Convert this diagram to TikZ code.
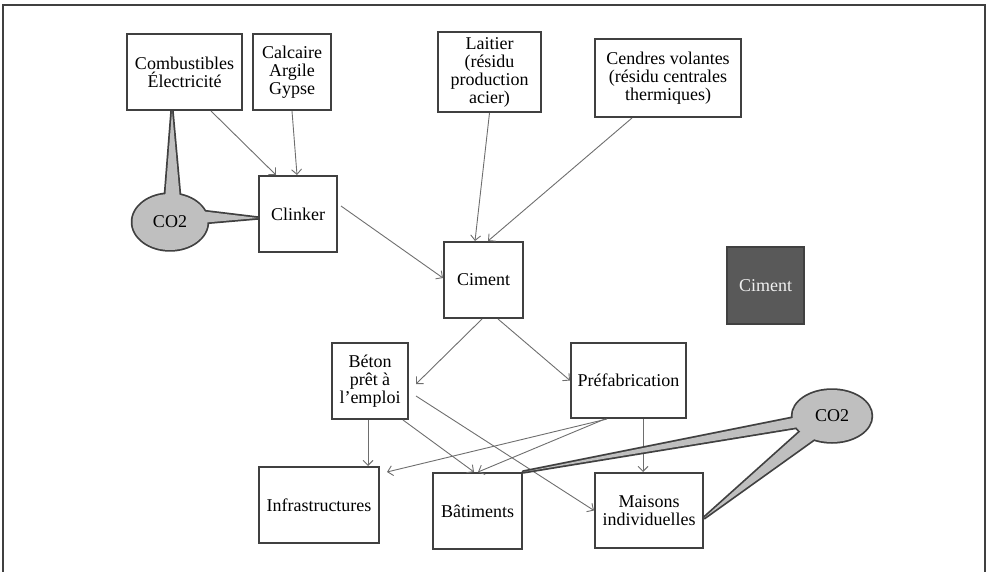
\documentclass[tikz,border=0pt]{standalone}
\usepackage{fontspec}
\setmainfont{Liberation Serif}
\usetikzlibrary{arrows.meta}

\definecolor{framegray}{RGB}{64,64,64}
\definecolor{linegray}{RGB}{110,110,110}
\definecolor{co2gray}{RGB}{191,191,191}
\definecolor{darkfill}{RGB}{89,89,89}

\tikzset{
  box/.style={draw=framegray, line width=2pt, fill=white, align=center, inner sep=0pt,
    font=\fontsize{18}{18}\selectfont},
  sz/.style 2 args={minimum width=#1pt, minimum height=#2pt},
  darkbox/.style={box, fill=darkfill, text=white!94!black},
  flow/.style={draw=linegray, line width=0.9pt, -{Straight Barb[length=5pt,width=10pt]}},
  calloutline/.style={draw=framegray, line width=3.5pt, line join=round},
  co2text/.style={font=\fontsize{18}{18}\selectfont, inner sep=0pt}
}

\begin{document}
\begin{tikzpicture}[x=1pt, y=-1pt]
    \useasboundingbox (0,0) rectangle (986,572);
    \draw[framegray, line width=2pt] (3,5) rectangle (985,600);

    % inputs
    \node[box, sz={115}{76}] (comb)    at (184.5,72) {Combustibles\\\'Electricit\'e};
    \node[box, sz={78}{76}]  (calc)    at (292,72)   {Calcaire\\Argile\\Gypse};
    \node[box, sz={103}{80}] (laitier) at (489.5,72) {Laitier\\(r\'esidu\\production\\acier)};
    \node[box, sz={146}{78}] (cendres) at (668,78)   {Cendres volantes\\(r\'esidu centrales\\thermiques)};
    \node[box, sz={78}{76}]  (clinker) at (298,214)  {Clinker};
    \node[box, sz={79}{76}]  (ciment)  at (483.5,280) {Ciment};
    \node[darkbox, sz={77}{77}] (legend) at (765.5,285.5) {Ciment};

    % uses
    \node[box, sz={76}{76}]  (beton)   at (370,381)   {B\'eton\\pr\^et \`a\\l'emploi};
    \node[box, sz={115}{75}] (prefab)  at (628.5,380.5) {Pr\'efabrication};
    \node[box, sz={120}{76}] (infra)   at (319,505)   {Infrastructures};
    \node[box, sz={89}{76}]  (batim)   at (477.5,511) {B\^atiments};
    \node[box, sz={108}{75}] (maisons) at (649,510.5) {Maisons\\individuelles};

    \draw[flow] ([xshift=26.5pt]comb.south) -- ([xshift=-22pt]clinker.north);
    \draw[flow] (calc.south) -- ([xshift=-1pt]clinker.north);
    \draw[flow] ([xshift=3pt,yshift=8pt]clinker.east) -- ([yshift=2pt]ciment.west);
    \draw[flow] (laitier.south) -- ([xshift=-8.5pt]ciment.north);
    \draw[flow] ([xshift=-36pt]cendres.south) -- ([xshift=4.5pt]ciment.north);
    \draw[flow] ([xshift=-1.5pt]ciment.south) -- ([xshift=7pt,yshift=-3pt]beton.east);
    \draw[flow] ([xshift=14.5pt]ciment.south) -- (prefab.west);
    \draw[flow] ([xshift=-2pt]beton.south) -- ([xshift=49pt]infra.north);
    \draw[flow] ([xshift=33pt]beton.south) -- ([xshift=-3.5pt]batim.north);
    \draw[flow] ([xshift=7pt,yshift=-15pt]beton.east) -- (maisons.west);
    \draw[flow] ([xshift=-21.5pt]prefab.south) -- ([xshift=7pt,yshift=-6pt]infra.north east);
    \draw[flow] ([xshift=-23.5pt]prefab.south) -- ([xshift=0.5pt]batim.north);
    \draw[flow] ([xshift=14.5pt]prefab.south) -- ([xshift=-6pt]maisons.north);

    % CO2 callouts
    \coordinate (co2apos) at (170,222);
    \coordinate (tipa1)  at ([xshift=-12.5pt]comb.south);
    \coordinate (basea1) at (165,200);
    \coordinate (basea2) at (180,200);
    \coordinate (tipa2)  at ([yshift=-4pt]clinker.west);
    \coordinate (basea3) at (200,211);
    \coordinate (basea4) at (200,223);
    \coordinate (co2bpos) at (832,416);
    \coordinate (tipb1)  at (batim.north east);
    \coordinate (baseb1) at (800,416.6);
    \coordinate (baseb2) at (800,426.8);
    \coordinate (tipb2)  at ([yshift=-7.5pt]maisons.east);
    \coordinate (baseb3) at (809.5,423.4);
    \coordinate (baseb4) at (823.8,432.2);
    \draw[calloutline] (co2apos) ellipse [x radius=37.5pt, y radius=28pt]
        (tipa1) -- (basea1) -- (basea2) -- cycle
        (tipa2) -- (basea3) -- (basea4) -- cycle
        (co2bpos) ellipse [x radius=39.5pt, y radius=26pt]
        (tipb1) -- (baseb1) -- (baseb2) -- cycle
        (tipb2) -- (baseb3) -- (baseb4) -- cycle;
    \fill[co2gray] (co2apos) ellipse [x radius=37.5pt, y radius=28pt];
    \fill[co2gray] (tipa1) -- (basea1) -- (basea2) -- cycle;
    \fill[co2gray] (tipa2) -- (basea3) -- (basea4) -- cycle;
    \fill[co2gray] (co2bpos) ellipse [x radius=39.5pt, y radius=26pt];
    \fill[co2gray] (tipb1) -- (baseb1) -- (baseb2) -- cycle;
    \fill[co2gray] (tipb2) -- (baseb3) -- (baseb4) -- cycle;
    \node[co2text] (co2a) at (co2apos) {CO2};
    \node[co2text] (co2b) at (co2bpos) {CO2};
\end{tikzpicture}
\end{document}
